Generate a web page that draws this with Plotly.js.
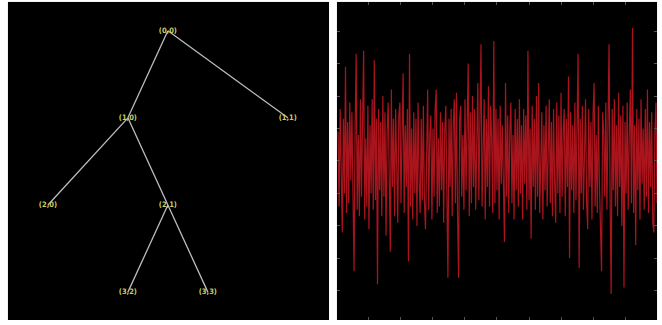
<!DOCTYPE html>
<html>
<head>
<meta charset="utf-8">
<script src="https://cdn.plot.ly/plotly-3.0.1.min.js"></script>
<style>html,body{margin:0;padding:0;background:#fff;}#chart{width:662px;height:325px;}</style>
</head>
<body>
<div id="chart"></div>
<script>
// Tree nodes: label, horizontal slot, depth
const nodeLabels = ["(0,0)", "(1,0)", "(1,1)", "(2,0)", "(2,1)", "(3,2)", "(3,3)"];
const nodeX      = [4, 3, 7, 1, 4, 3, 5];
const nodeDepth  = [0, 1, 1, 2, 2, 3, 3];
// Edges as parent index -> child index
const edgeFrom = [0, 0, 1, 1, 4, 4];
const edgeTo   = [1, 2, 3, 4, 5, 6];

// Signal samples
const signal = [
 0.9,-1.4,1.6,-0.9,-2.2,1.3,-1.0,2.9,-1.6,1.2,
 -1.3,1.8,-0.6,1.5,-1.9,-3.4,1.0,3.3,-1.5,0.8,
 -1.7,1.9,-1.1,1.4,3.4,-1.8,0.7,-1.4,1.7,-2.1,
 1.1,-1.0,1.9,-1.5,3.1,-1.2,1.3,-3.8,1.6,-0.9,
 1.2,-1.7,2.0,-1.1,1.5,-2.3,0.9,1.8,-1.5,-2.8,
 2.2,-0.8,1.3,-1.7,1.6,-1.0,-1.9,1.4,1.8,-1.3,
 0.9,2.7,-1.6,1.1,-0.8,1.6,-3.1,3.3,-1.4,1.0,
 -1.8,1.5,-1.0,1.3,-2.0,1.8,-0.6,-1.6,1.3,-1.2,
 1.7,-1.3,-2.1,1.1,2.2,-1.5,0.8,1.4,-1.8,1.0,
 -1.1,1.6,2.2,-1.6,0.7,-1.4,1.5,-0.9,1.2,-1.9,
 0.9,1.7,-1.2,-3.6,1.3,-0.8,1.6,-1.7,1.1,1.9,
 -1.3,2.1,-1.6,-3.6,1.3,1.7,-1.1,0.8,-1.5,1.9,
 -0.9,1.2,3.0,-1.7,1.5,-1.3,2.0,-0.8,1.6,-1.5,
 1.2,2.4,-1.2,1.5,3.6,-1.4,1.0,1.9,-1.8,1.3,
 -0.8,2.3,-1.4,1.7,0.7,-1.6,3.7,-1.3,1.6,-0.9,
 1.3,-1.8,1.7,-0.7,1.1,-1.5,-2.5,2.4,-1.1,1.4,
 -1.6,0.9,1.8,-1.3,0.8,-1.8,1.6,-0.9,1.3,-1.4,
 1.9,-1.0,1.1,-1.8,1.6,-0.7,1.4,-1.5,3.4,-1.2,
 1.0,-2.4,1.7,-0.8,1.3,-1.5,2.0,-1.1,2.4,-1.6,
 0.7,1.5,-1.8,1.1,-0.9,1.7,-1.4,0.8,1.9,-1.3,
 1.2,-1.7,1.6,-0.6,-1.9,1.8,-1.0,1.4,-1.6,2.1,
 -1.1,0.9,1.6,-1.7,1.3,-0.8,2.6,-3.0,1.5,-0.9,
 1.1,-1.6,1.8,-1.2,0.7,3.3,-3.3,1.3,-1.0,1.7,
 -1.5,1.0,1.9,-1.3,-2.1,1.6,-0.8,1.2,-1.8,1.4,
 2.4,-1.4,0.8,-1.6,1.7,-0.7,-1.8,-3.4,1.5,0.9,
 -1.1,1.8,-1.5,1.0,3.6,-1.2,-4.1,1.6,-0.9,1.9,
 -1.4,1.1,-1.7,2.1,-0.8,1.4,-2.0,1.7,-3.9,1.2,
 -1.0,1.8,-1.5,0.9,2.2,-1.3,4.1,-1.6,1.1,-2.6,
 1.6,-0.9,1.3,-1.8,1.9,-0.7,1.0,-1.5,1.6,-1.1,
 2.2,-1.6,1.2,-0.8,1.5,-1.9,-2.2,0.9,1.8,-1.3
];
const sampleIndex = signal.map((v, i) => i);

const ex = [], ey = [];
for (let k = 0; k < edgeFrom.length; k++) {
  ex.push(nodeX[edgeFrom[k]], nodeX[edgeTo[k]], null);
  ey.push(nodeDepth[edgeFrom[k]], nodeDepth[edgeTo[k]], null);
}

const traces = [
  {x: ex, y: ey, mode: 'lines', type: 'scatter', xaxis: 'x', yaxis: 'y',
   line: {color: '#bdbdbd', width: 1.3}, hoverinfo: 'skip'},
  {x: nodeX, y: nodeDepth, text: nodeLabels, mode: 'text', type: 'scatter',
   xaxis: 'x', yaxis: 'y', textposition: 'middle center',
   textfont: {family: 'DejaVu Sans Condensed, DejaVu Sans, sans-serif', size: 7.5, color: '#cccc62', weight: 'bold'}},
  {x: sampleIndex, y: signal, mode: 'lines', type: 'scatter', xaxis: 'x2', yaxis: 'y2',
   line: {color: 'rgba(200,24,34,0.85)', width: 1.2}}
];

const layout = {
  width: 662, height: 325,
  margin: {l: 0, r: 0, t: 0, b: 0},
  paper_bgcolor: '#ffffff', plot_bgcolor: '#000000',
  showlegend: false,
  xaxis: {domain: [0.012, 0.497], range: [0, 8.03], visible: false, fixedrange: true},
  yaxis: {domain: [0.0154, 0.994], range: [3.32, -0.33], visible: false, fixedrange: true},
  xaxis2: {domain: [0.509, 0.9925], range: [-1, 299], anchor: 'y2',
    showgrid: false, zeroline: false, showticklabels: false,
    ticks: 'inside', ticklen: 3, tickcolor: '#555', mirror: 'ticks',
    tick0: 29, dtick: 30, showline: false},
  yaxis2: {domain: [0.0154, 0.994], range: [-4.9, 4.9], anchor: 'x2',
    showgrid: false, zeroline: false, showticklabels: false,
    ticks: 'inside', ticklen: 3, tickcolor: '#555', mirror: 'ticks',
    tick0: 0, dtick: 1, showline: false}
};

Plotly.newPlot('chart', traces, layout, {staticPlot: true, displayModeBar: false});
</script>
</body>
</html>
